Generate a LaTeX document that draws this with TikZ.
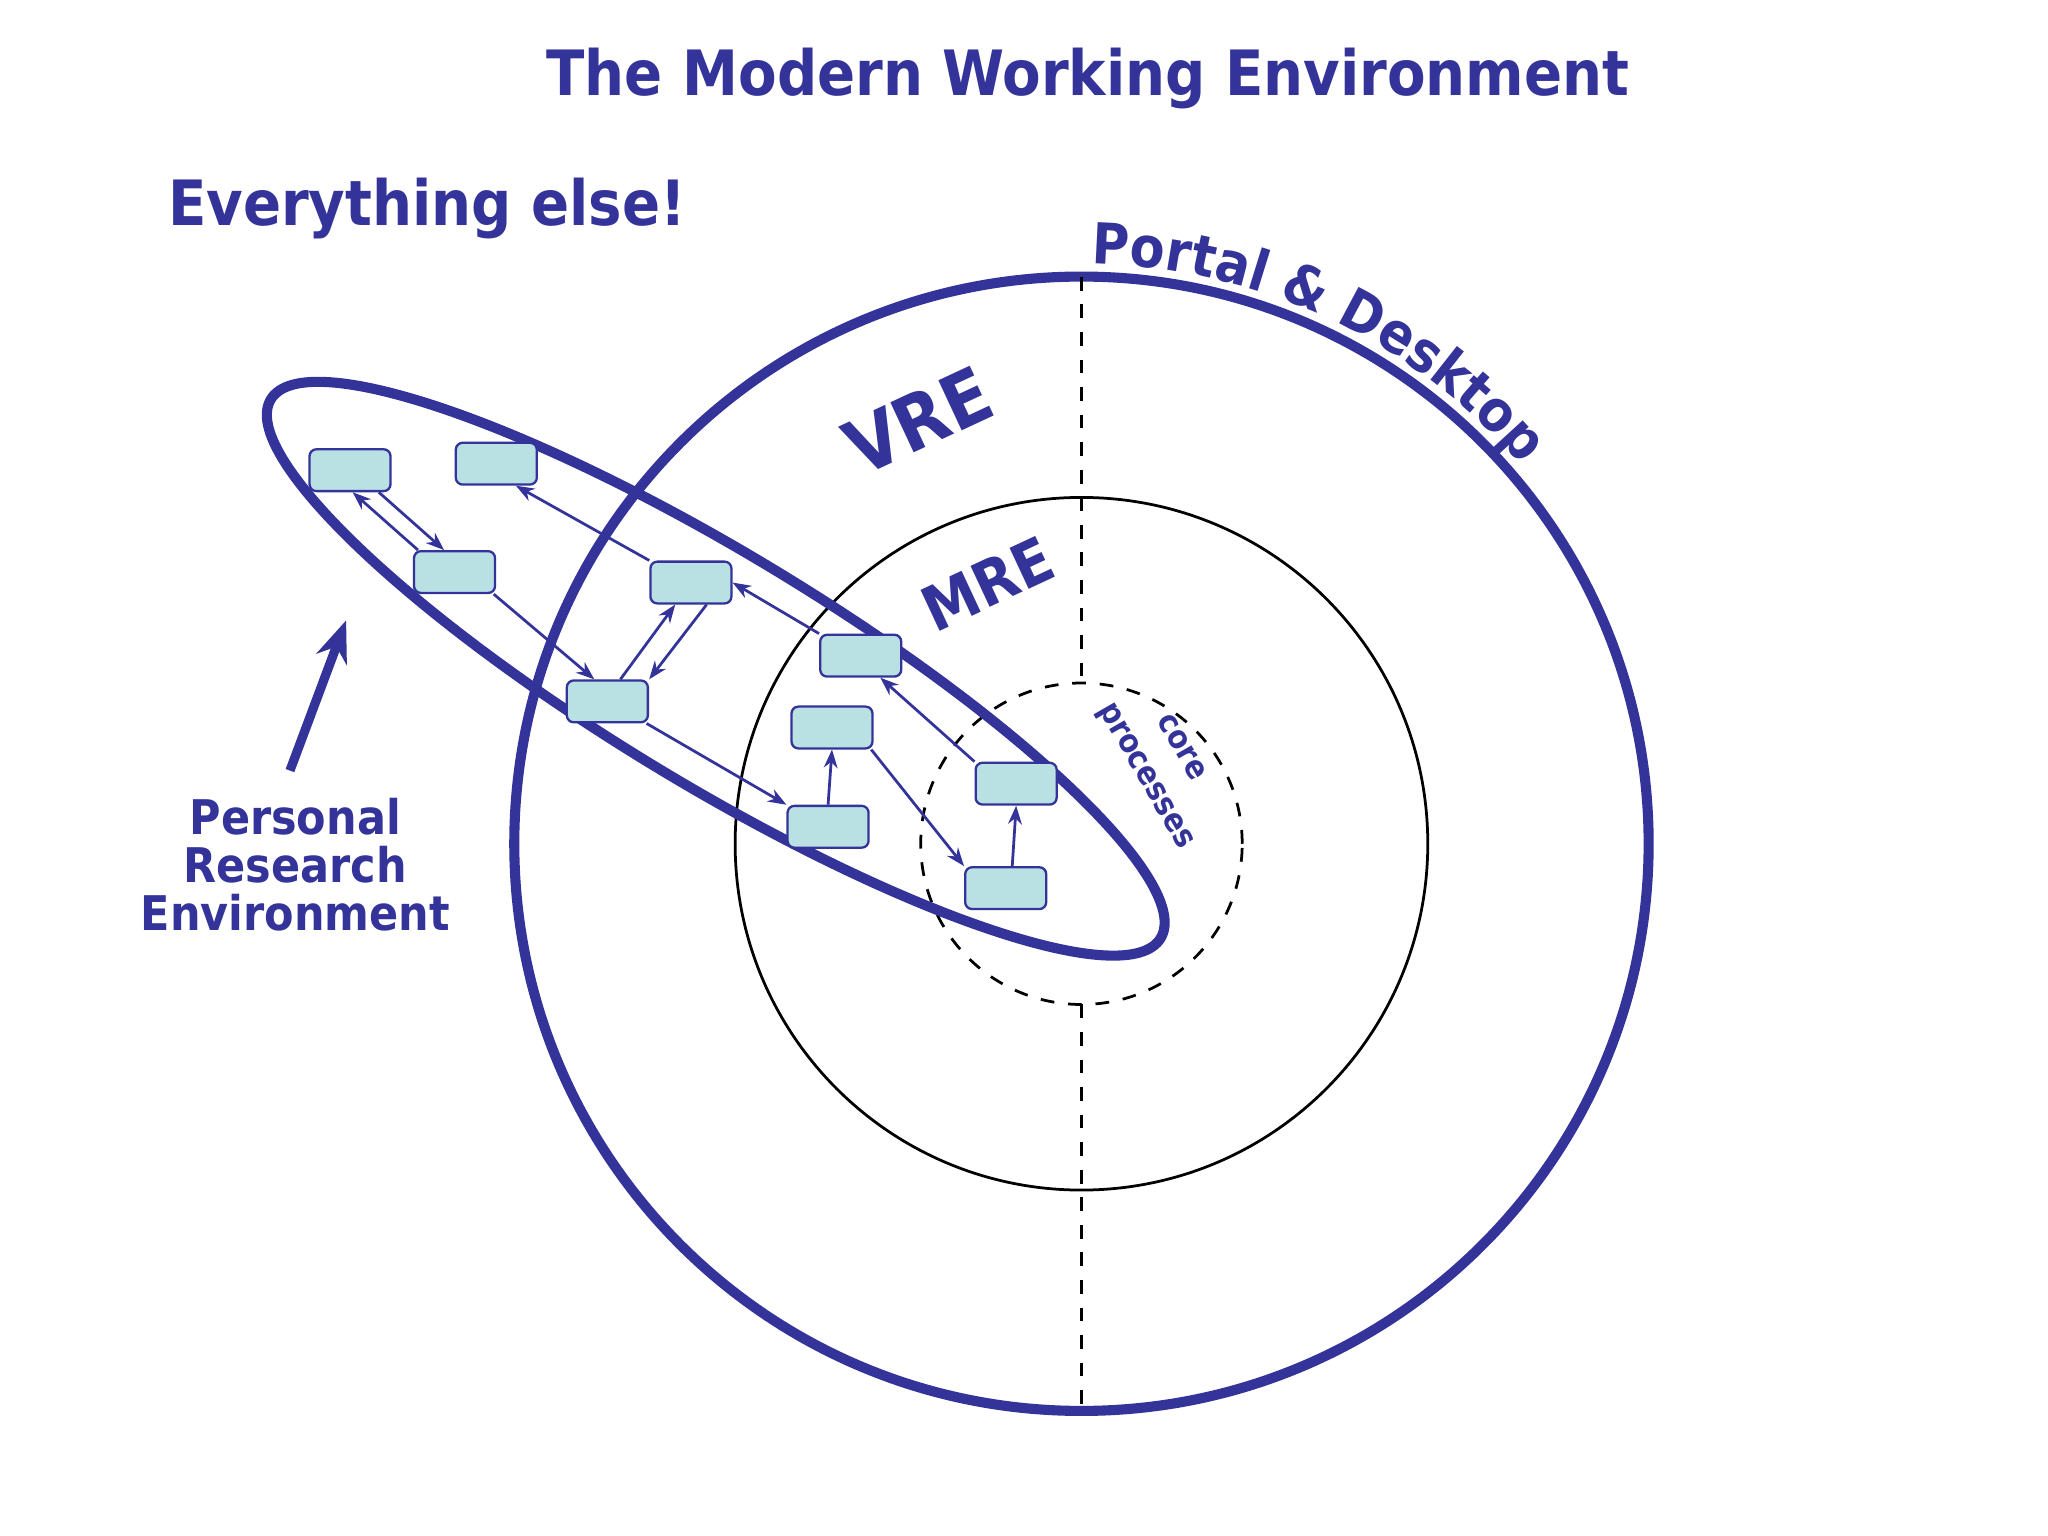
\documentclass[tikz,border=0pt]{standalone}
\usepackage{fontspec}
\setmainfont{DejaVu Sans Condensed}
\usetikzlibrary{decorations.text,arrows.meta}
\definecolor{dblue}{HTML}{33339A}
\definecolor{boxc}{HTML}{B9E0E3}
\begin{document}
\begin{tikzpicture}[x=0.01cm,y=-0.01cm,
  bx/.style={draw=dblue,fill=boxc,rounded corners=1.5pt,minimum width=0.62cm,minimum height=0.32cm,inner sep=0pt,line width=0.5pt},
  ar/.style={draw=dblue,line width=0.6pt,-{Stealth[length=4pt,width=3pt]}},
  lbl/.style={text=dblue,font=\bfseries}]
\useasboundingbox (0,0) rectangle (1568,1176);
\node[lbl,font=\bfseries\fontsize{13.6}{16}\selectfont] (title) at (833,60) {The Modern Working Environment};
\node[lbl,font=\bfseries\fontsize{13.6}{16}\selectfont] (ee) at (327,160) {Everything else!};
\coordinate (c) at (828,646);
\draw[dblue,line width=2.2pt] (c) circle (4.34cm);
\draw[black,line width=0.6pt] (c) circle (2.65cm);
\draw[black,dashed,line width=0.6pt] (c) circle (1.23cm);
\draw[black,dashed,line width=0.6pt] (828,212) -- (828,523);
\draw[black,dashed,line width=0.6pt] (828,769) -- (828,1080);
\path[decorate,decoration={text along path,text color=dblue,
  text={|\bfseries\fontsize{12.3}{15}\selectfont|Portal {\&} Desktop}}]
  (c) ++(89:4.44cm) arc[start angle=89,end angle=25,radius=4.44cm];
\node[lbl,rotate=25,font=\bfseries\fontsize{16.5}{19}\selectfont] (vre) at (703,322) {VRE};
\node[lbl,rotate=25,font=\bfseries\fontsize{13.5}{16}\selectfont] (mre) at (756,447) {MRE};
\node[lbl,rotate=-60,font=\bfseries\fontsize{7}{8}\selectfont] (core) at (905,572) {core};
\node[lbl,rotate=-60,font=\bfseries\fontsize{7}{8}\selectfont] (proc) at (876,595) {processes};
\draw[dblue,line width=2.2pt,rotate around={-31.2:(548,512)}] (548,512) ellipse[x radius=3.98cm,y radius=0.88cm];
\node[bx] (b1) at (268,360) {};
\node[bx] (b2) at (380,355) {};
\node[bx] (b3) at (348,438) {};
\node[bx] (b4) at (529,446) {};
\node[bx] (b5) at (465,537) {};
\node[bx] (b6) at (659,502) {};
\node[bx] (b7) at (637,557) {};
\node[bx] (b8) at (634,633) {};
\node[bx] (b9) at (778,600) {};
\node[bx] (b10) at (770,680) {};
\draw[ar] ([xshift=-0.28cm]b3.north) -- ([xshift=0.02cm]b1.south);
\draw[ar] ([xshift=0.22cm]b1.south) -- ([xshift=-0.08cm]b3.north);
\draw[ar] (b4.north west) -- ([xshift=0.15cm]b2.south);
\draw[ar] ([xshift=0.3cm]b3.south) -- ([xshift=-0.1cm]b5.north);
\draw[ar] ([xshift=0.1cm]b5.north) -- ([xshift=-0.12cm]b4.south);
\draw[ar] ([xshift=0.12cm]b4.south) -- ([xshift=0.32cm]b5.north);
\draw[ar] (b6.north west) -- (b4.east);
\draw[ar] ([xshift=0.3cm]b5.south) -- (b8.north west);
\draw[ar] (b8.north) -- (b7.south);
\draw[ar] ([xshift=0.3cm]b7.south) -- (b10.north west);
\draw[ar] (b9.north west) -- ([xshift=0.15cm]b6.south);
\draw[ar] ([xshift=0.05cm]b10.north) -- (b9.south);
\coordinate (pa) at (222,590);
\coordinate (pb) at (265,475);
\draw[dblue,line width=2pt,-{Stealth[length=9pt,width=7pt]}] (pa) -- (pb);
\node[lbl,align=center,font=\bfseries\fontsize{10.4}{10.5}\selectfont] (pre) at (226,662) {Personal\\Research\\Environment};
\end{tikzpicture}
\end{document}
